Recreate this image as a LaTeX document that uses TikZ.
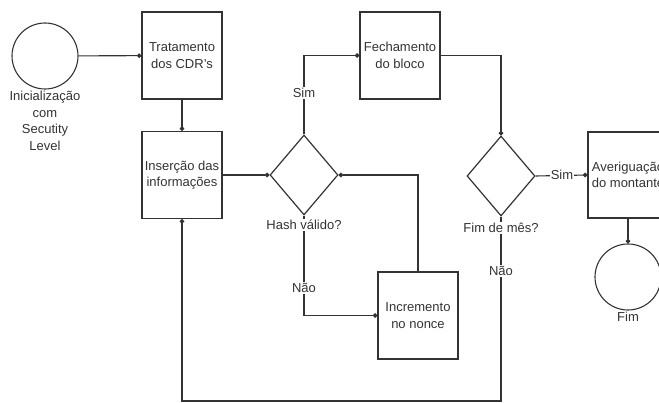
\documentclass[tikz,border=0pt]{standalone}
\usepackage{fontspec}
\setmainfont{Liberation Sans}
\usetikzlibrary{shapes.geometric,arrows.meta}
\definecolor{lc}{HTML}{333333}
\definecolor{tc}{HTML}{333333}
\begin{document}
\begin{tikzpicture}[x=1pt,y=-1pt,
  txt/.style={font=\fontsize{13}{16.6}\selectfont, text=tc, align=center},
  box/.style={txt, draw=lc, line width=1.2pt, minimum width=80pt, minimum height=87pt, inner sep=0pt},
  term/.style={circle, draw=lc, line width=1.1pt, minimum size=66pt, inner sep=0pt},
  dec/.style={diamond, draw=lc, line width=1.2pt, minimum width=68pt, minimum height=80pt, inner sep=0pt},
  conn/.style={draw=lc, line width=1.1pt, -{Circle[length=4.5pt]}},
  lbl/.style={txt, fill=white, inner sep=1pt}]
\useasboundingbox (0,0) rectangle (659,403);
% shapes
\node[term] (start) at (45,56) {};
\node[box] (trat) at (182,55.5) {Tratamento\\dos CDR's};
\node[box] (fech) at (400,55.5) {Fechamento\\do bloco};
\node[box] (ins) at (182,175) {Inserção das\\informações};
\node[dec] (hash) at (304,175) {};
\node[dec] (fim) at (501,176) {};
\node[box] (incr) at (418,315.5) {Incremento\\no nonce};
\node[box, minimum height=86pt] (aver) at (628,175) {Averiguação\\do montante};
\node[term] (end) at (628,277) {};
\coordinate (bot) at (501,401);
% connectors
\draw[conn] (start) -- (trat);
\draw[conn] (trat) -- (ins);
\draw[conn] (ins) -- (hash);
\draw[conn] (hash.north) |- (fech.west);
\draw[conn] (fech.east) -| (fim.north);
\draw[conn] (hash.south) |- (incr.west);
\draw[conn] (incr.north) |- (hash.east);
\draw[conn] (fim.east) -- (aver.west);
\draw[conn] (fim.south) -- (bot) -| (ins.south);
\draw[conn] (aver) -- (end);
% labels
\node[txt] (startlbl) at (45,121) {Inicialização\\com\\Secutity\\Level};
\node[txt] (endlbl) at (628,317) {Fim};
\node[lbl] (hashlbl) at (304,225) {Hash válido?};
\node[lbl] (fimlbl) at (501,228) {Fim de mês?};
\node[lbl] (sim1) at (304,93) {Sim};
\node[lbl] (nao1) at (304,288) {Não};
\node[lbl] (sim2) at (562,175) {Sim};
\node[lbl] (nao2) at (501,271) {Não};
\end{tikzpicture}
\end{document}
